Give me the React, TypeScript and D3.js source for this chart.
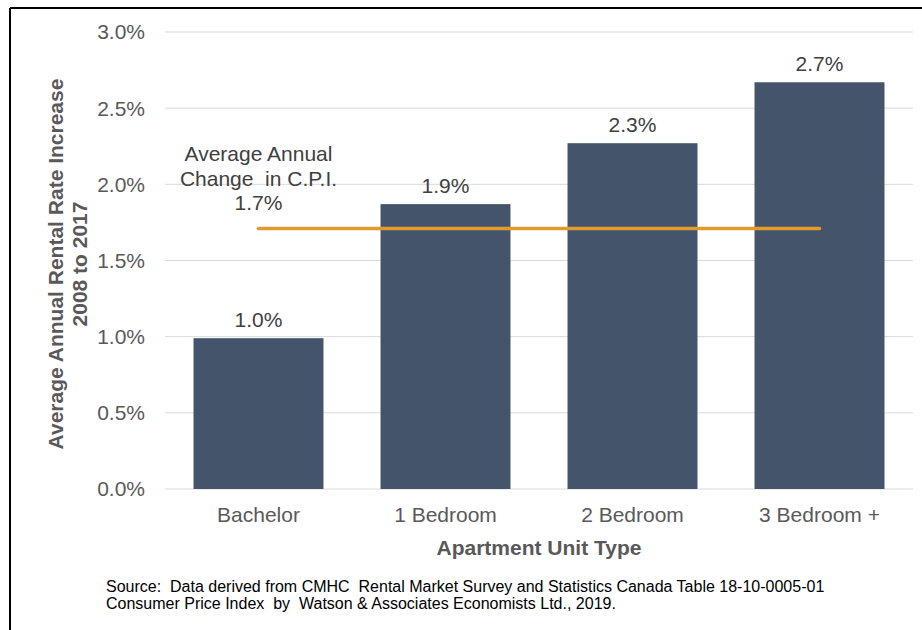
import React from 'react';
import * as d3 from 'd3';

const categories = ['Bachelor', '1 Bedroom', '2 Bedroom', '3 Bedroom +'];
const rentIncrease = [0.99, 1.87, 2.27, 2.67];
const rentLabels = ['1.0%', '1.9%', '2.3%', '2.7%'];
const cpiAverage = 1.71;
const cpiLabel = ['Average Annual', 'Change  in C.P.I.', '1.7%'];
const yTicks = [0, 0.5, 1, 1.5, 2, 2.5, 3];
const sourceLines = [
  'Source:  Data derived from CMHC  Rental Market Survey and Statistics Canada Table 18-10-0005-01',
  'Consumer Price Index  by  Watson & Associates Economists Ltd., 2019.',
];

const App: React.FC = () => {
  const width = 922;
  const height = 630;
  const plot = { left: 165, right: 913, top: 32, bottom: 489 };
  const font = '"Liberation Sans", Arial, sans-serif';

  const x = d3.scaleBand<string>()
    .domain(categories)
    .range([plot.left, plot.right])
    .paddingInner(0.305)
    .paddingOuter(0.1525);

  const y = d3.scaleLinear().domain([0, 3]).range([plot.bottom, plot.top]);

  const cpiX1 = (x(categories[0]) ?? 0) + x.bandwidth() / 2;
  const cpiX2 = (x(categories[categories.length - 1]) ?? 0) + x.bandwidth() / 2;

  return (
    <svg
      width={width}
      height={height}
      style={{ position: 'absolute', left: 0, top: 0, background: '#fff' }}
      fontFamily={font}
    >
      {/* frame */}
      <line x1={10} y1={8} x2={width} y2={8} stroke="#000" strokeWidth={2} />
      <line x1={10} y1={8} x2={10} y2={height} stroke="#000" strokeWidth={2} />

      {/* gridlines + tick labels */}
      {yTicks.map(t => (
        <g key={`tick-${t}`}>
          <line
            x1={plot.left}
            x2={plot.right}
            y1={y(t)}
            y2={y(t)}
            stroke="#D9D9D9"
            strokeWidth={1}
          />
          <text
            x={145}
            y={y(t)}
            dy="0.35em"
            textAnchor="end"
            fontSize={21}
            fill="#595959"
          >
            {d3.format('.1%')(t / 100)}
          </text>
        </g>
      ))}

      {/* bars */}
      {categories.map((c, i) => (
        <g key={`bar-${c}`}>
          <rect
            x={x(c)}
            y={y(rentIncrease[i])}
            width={x.bandwidth()}
            height={y(0) - y(rentIncrease[i])}
            fill="#44546A"
          />
          <text
            x={(x(c) ?? 0) + x.bandwidth() / 2}
            y={y(rentIncrease[i]) - 11}
            textAnchor="middle"
            fontSize={21}
            fill="#404040"
          >
            {rentLabels[i]}
          </text>
          <text
            x={(x(c) ?? 0) + x.bandwidth() / 2}
            y={plot.bottom + 33}
            textAnchor="middle"
            fontSize={21}
            fill="#595959"
          >
            {c}
          </text>
        </g>
      ))}

      {/* CPI line */}
      <line
        x1={cpiX1}
        x2={cpiX2}
        y1={y(cpiAverage)}
        y2={y(cpiAverage)}
        stroke="#E39A2D"
        strokeWidth={3.5}
        strokeLinecap="round"
      />
      {cpiLabel.map((l, i) => (
        <text
          key={`cpi-${i}`}
          x={cpiX1}
          y={161 + i * 24.5}
          textAnchor="middle"
          fontSize={21}
          fill="#404040"
          style={{ whiteSpace: 'pre' }}
        >
          {l}
        </text>
      ))}

      {/* axis titles */}
      <text
        transform={`translate(63, 264) rotate(-90)`}
        textAnchor="middle"
        fontSize={21}
        fontWeight="bold"
        fill="#595959"
      >
        <tspan x={0} dy={0}>Average Annual Rental Rate Increase</tspan>
        <tspan x={0} dy={24}>2008 to 2017</tspan>
      </text>
      <text
        x={(plot.left + plot.right) / 2}
        y={555}
        textAnchor="middle"
        fontSize={21}
        fontWeight="bold"
        fill="#595959"
      >
        Apartment Unit Type
      </text>

      {/* source */}
      {sourceLines.map((s, i) => (
        <text
          key={`src-${i}`}
          x={106}
          y={592 + i * 16.5}
          fontSize={16}
          fill="#000"
          style={{ whiteSpace: 'pre' }}
        >
          {s}
        </text>
      ))}
    </svg>
  );
};

export default App;
